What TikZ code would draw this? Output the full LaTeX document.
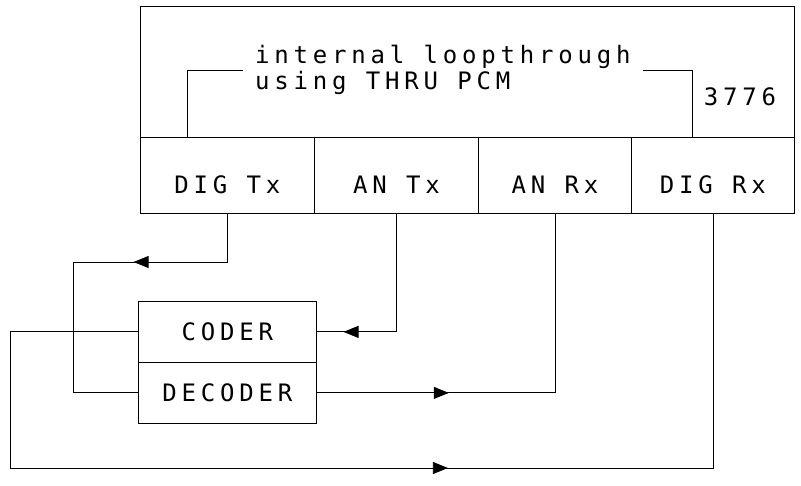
\documentclass[tikz,border=0pt]{standalone}
\usepackage{fontspec}
\newfontfamily\plotfont[LetterSpace=20]{DejaVu Sans Mono}
\usetikzlibrary{arrows.meta,decorations.markings}

\tikzset{
    wire/.style={line width=0.8pt},
    plot/.style={font=\plotfont\fontsize{24}{26}\selectfont},
    box/.style={draw, wire, plot, inner sep=0pt, anchor=north west},
    port/.style={box, minimum height=76pt, text height=37pt, text depth=0pt},
    arrowat/.style={postaction={decorate, decoration={markings,
        mark=at position #1 with {\arrow{Triangle[length=15pt,width=12pt]}}}}}
}

\begin{document}
\begin{tikzpicture}[x=1pt, y=-1pt]
    \useasboundingbox (0,0) rectangle (801,486);

    % Unit 3776 with its four ports
    \node[box, minimum width=654pt, minimum height=131pt] (unit) at (140,6) {};
    \node[plot] (num) at (740,97) {3776};
    \foreach \name/\lab/\xa/\w in {dtx/DIG Tx/140/174, atx/AN Tx/314/164,
                                   arx/AN Rx/478/153, drx/DIG Rx/631/163} {
        \node[port, minimum width=\w pt] (\name) at (\xa,137) {\lab};
    }

    % Internal loopthrough
    \node[plot, align=left, anchor=west, inner sep=12pt] (loop) at (243,70)
        {internal loopthrough\\using THRU PCM};
    \coordinate (loopL) at (187,137);
    \coordinate (loopR) at (692,137);
    \draw[wire] (loopL) |- (loop.west);
    \draw[wire] (loop.east) -| (loopR);

    % Coder / decoder
    \node[box, minimum width=178pt, minimum height=61pt] (coder) at (138,301) {CODER};
    \node[box, minimum width=178pt, minimum height=61pt] (decoder) at (138,362) {DECODER};

    % Connections
    \coordinate (tapL) at (73,262);
    \coordinate (busL) at (10,468);
    \draw[wire, arrowat=142pt] (dtx.south) |- (tapL) |- (decoder.west);
    \draw[wire, arrowat=171pt] (atx.south) |- (coder.east);
    \draw[wire, arrowat=132pt] (decoder.east) -| (arx.south);
    \draw[wire, arrowat=702pt] (coder.west) -| (busL) -| (drx.south);
\end{tikzpicture}
\end{document}
